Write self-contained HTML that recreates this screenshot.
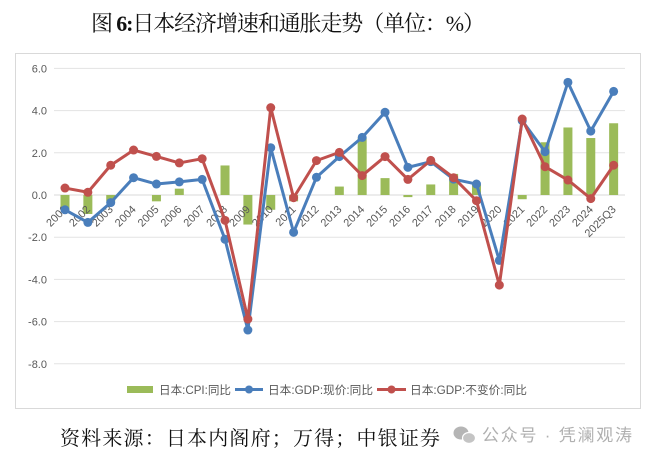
<!DOCTYPE html>
<html><head><meta charset="utf-8"><style>
html,body{margin:0;padding:0;background:#fff;}
svg{display:block;}
</style></head><body>
<svg width="654" height="462" viewBox="0 0 654 462" xmlns="http://www.w3.org/2000/svg">
<rect x="0" y="0" width="654" height="462" fill="#fff"/>
<!-- title -->
<text x="91" y="31" font-family="'Liberation Serif','Noto Serif CJK SC',serif" font-size="22" fill="#111" textLength="394" lengthAdjust="spacing">图 <tspan font-weight="bold">6:</tspan>日本经济增速和通胀走势（单位：%）</text>
<!-- chart frame -->
<rect x="15.5" y="53.5" width="625" height="355" fill="#fff" stroke="#d9d9d9" stroke-width="1"/>
<!-- gridlines -->
<g stroke="#e3e3e3" stroke-width="1">
<line x1="54" x2="625" y1="68.4" y2="68.4"/>
<line x1="54" x2="625" y1="110.6" y2="110.6"/>
<line x1="54" x2="625" y1="152.8" y2="152.8"/>
<line x1="54" x2="625" y1="195" y2="195" stroke="#d9d9d9"/>
<line x1="54" x2="625" y1="237.2" y2="237.2"/>
<line x1="54" x2="625" y1="279.4" y2="279.4"/>
<line x1="54" x2="625" y1="321.6" y2="321.6"/>
<line x1="54" x2="625" y1="363.8" y2="363.8"/>
</g>
<!-- y labels -->
<g font-family="'Liberation Sans',sans-serif" font-size="11" fill="#595959" text-anchor="end">
<text x="47" y="72.4">6.0</text>
<text x="47" y="114.6">4.0</text>
<text x="47" y="156.8">2.0</text>
<text x="47" y="199">0.0</text>
<text x="47" y="241.2">-2.0</text>
<text x="47" y="283.4">-4.0</text>
<text x="47" y="325.6">-6.0</text>
<text x="47" y="367.8">-8.0</text>
</g>
<!-- bars -->
<g fill="#9BBB59">
<rect x="60.5" y="195" width="9" height="14.77"/>
<rect x="83.36" y="195" width="9" height="18.99"/>
<rect x="106.22" y="195" width="9" height="6.33"/>
<rect x="151.94" y="195" width="9" height="6.33"/>
<rect x="174.8" y="188.67" width="9" height="6.33"/>
<rect x="220.52" y="165.46" width="9" height="29.54"/>
<rect x="243.38" y="195" width="9" height="29.54"/>
<rect x="266.24" y="195" width="9" height="14.77"/>
<rect x="289.1" y="195" width="9" height="6.33"/>
<rect x="334.82" y="186.56" width="9" height="8.44"/>
<rect x="357.68" y="138.03" width="9" height="56.97"/>
<rect x="380.54" y="178.12" width="9" height="16.88"/>
<rect x="403.4" y="195" width="9" height="2.11"/>
<rect x="426.26" y="184.45" width="9" height="10.55"/>
<rect x="449.12" y="173.9" width="9" height="21.1"/>
<rect x="471.98" y="184.45" width="9" height="10.55"/>
<rect x="517.7" y="195" width="9" height="4.22"/>
<rect x="540.56" y="142.25" width="9" height="52.75"/>
<rect x="563.42" y="127.48" width="9" height="67.52"/>
<rect x="586.28" y="138.03" width="9" height="56.97"/>
<rect x="609.14" y="123.26" width="9" height="71.74"/>
</g>
<!-- x labels -->
<g font-family="'Liberation Sans',sans-serif" font-size="11" fill="#595959" text-anchor="end">
<text transform="translate(68,210) rotate(-45)">2001</text>
<text transform="translate(90.86,210) rotate(-45)">2002</text>
<text transform="translate(113.72,210) rotate(-45)">2003</text>
<text transform="translate(136.58,210) rotate(-45)">2004</text>
<text transform="translate(159.44,210) rotate(-45)">2005</text>
<text transform="translate(182.3,210) rotate(-45)">2006</text>
<text transform="translate(205.16,210) rotate(-45)">2007</text>
<text transform="translate(228.02,210) rotate(-45)">2008</text>
<text transform="translate(250.88,210) rotate(-45)">2009</text>
<text transform="translate(273.74,210) rotate(-45)">2010</text>
<text transform="translate(296.6,210) rotate(-45)">2011</text>
<text transform="translate(319.46,210) rotate(-45)">2012</text>
<text transform="translate(342.32,210) rotate(-45)">2013</text>
<text transform="translate(365.18,210) rotate(-45)">2014</text>
<text transform="translate(388.04,210) rotate(-45)">2015</text>
<text transform="translate(410.9,210) rotate(-45)">2016</text>
<text transform="translate(433.76,210) rotate(-45)">2017</text>
<text transform="translate(456.62,210) rotate(-45)">2018</text>
<text transform="translate(479.48,210) rotate(-45)">2019</text>
<text transform="translate(502.34,210) rotate(-45)">2020</text>
<text transform="translate(525.2,210) rotate(-45)">2021</text>
<text transform="translate(548.06,210) rotate(-45)">2022</text>
<text transform="translate(570.92,210) rotate(-45)">2023</text>
<text transform="translate(593.78,210) rotate(-45)">2024</text>
<text transform="translate(616.64,210) rotate(-45)">2025Q3</text>
</g>
<!-- blue line -->
<g>
<polyline fill="none" stroke="#4A7EBB" stroke-width="3" stroke-linejoin="round" stroke-linecap="round"
points="65,209.77 87.86,222.43 110.72,202.6 133.58,177.7 156.44,184.03 179.3,181.92 202.16,179.39 225.02,239.31 247.88,330.04 270.74,147.74 293.6,232.35 316.46,177.28 339.32,156.6 362.18,137.4 385.04,112.29 407.9,167.36 430.76,161.66 453.62,179.18 476.48,184.03 499.34,260.41 522.2,120.73 545.06,151.75 567.92,82.33 590.78,131.07 613.64,91.4"/>
<g fill="#4A7EBB">
<circle cx="65" cy="209.77" r="4.5"/><circle cx="87.86" cy="222.43" r="4.5"/><circle cx="110.72" cy="202.6" r="4.5"/><circle cx="133.58" cy="177.7" r="4.5"/><circle cx="156.44" cy="184.03" r="4.5"/><circle cx="179.3" cy="181.92" r="4.5"/><circle cx="202.16" cy="179.39" r="4.5"/><circle cx="225.02" cy="239.31" r="4.5"/><circle cx="247.88" cy="330.04" r="4.5"/><circle cx="270.74" cy="147.74" r="4.5"/><circle cx="293.6" cy="232.35" r="4.5"/><circle cx="316.46" cy="177.28" r="4.5"/><circle cx="339.32" cy="156.6" r="4.5"/><circle cx="362.18" cy="137.4" r="4.5"/><circle cx="385.04" cy="112.29" r="4.5"/><circle cx="407.9" cy="167.36" r="4.5"/><circle cx="430.76" cy="161.66" r="4.5"/><circle cx="453.62" cy="179.18" r="4.5"/><circle cx="476.48" cy="184.03" r="4.5"/><circle cx="499.34" cy="260.41" r="4.5"/><circle cx="522.2" cy="120.73" r="4.5"/><circle cx="545.06" cy="151.75" r="4.5"/><circle cx="567.92" cy="82.33" r="4.5"/><circle cx="590.78" cy="131.07" r="4.5"/><circle cx="613.64" cy="91.4" r="4.5"/>
</g>
</g>
<!-- red line -->
<g>
<polyline fill="none" stroke="#C0504D" stroke-width="3" stroke-linejoin="round" stroke-linecap="round"
points="65,188.04 87.86,192.26 110.72,165.25 133.58,150.06 156.44,156.39 179.3,162.93 202.16,158.71 225.02,220.32 247.88,319.07 270.74,107.65 293.6,197.74 316.46,160.61 339.32,152.38 362.18,175.59 385.04,156.6 407.9,179.39 430.76,160.4 453.62,177.7 476.48,200.7 499.34,285.1 522.2,119.04 545.06,166.73 567.92,180.02 590.78,198.59 613.64,165.25"/>
<g fill="#C0504D">
<circle cx="65" cy="188.04" r="4.5"/><circle cx="87.86" cy="192.26" r="4.5"/><circle cx="110.72" cy="165.25" r="4.5"/><circle cx="133.58" cy="150.06" r="4.5"/><circle cx="156.44" cy="156.39" r="4.5"/><circle cx="179.3" cy="162.93" r="4.5"/><circle cx="202.16" cy="158.71" r="4.5"/><circle cx="225.02" cy="220.32" r="4.5"/><circle cx="247.88" cy="319.07" r="4.5"/><circle cx="270.74" cy="107.65" r="4.5"/><circle cx="293.6" cy="197.74" r="4.5"/><circle cx="316.46" cy="160.61" r="4.5"/><circle cx="339.32" cy="152.38" r="4.5"/><circle cx="362.18" cy="175.59" r="4.5"/><circle cx="385.04" cy="156.6" r="4.5"/><circle cx="407.9" cy="179.39" r="4.5"/><circle cx="430.76" cy="160.4" r="4.5"/><circle cx="453.62" cy="177.7" r="4.5"/><circle cx="476.48" cy="200.7" r="4.5"/><circle cx="499.34" cy="285.1" r="4.5"/><circle cx="522.2" cy="119.04" r="4.5"/><circle cx="545.06" cy="166.73" r="4.5"/><circle cx="567.92" cy="180.02" r="4.5"/><circle cx="590.78" cy="198.59" r="4.5"/><circle cx="613.64" cy="165.25" r="4.5"/>
</g>
</g>
<!-- legend -->
<g font-family="'Liberation Sans','Noto Sans CJK SC',sans-serif" font-size="11.5" fill="#595959">
<rect x="127" y="386" width="26" height="7" fill="#9BBB59"/>
<text x="159" y="394" textLength="72" lengthAdjust="spacingAndGlyphs">日本:CPI:同比</text>
<line x1="235" x2="263" y1="389.5" y2="389.5" stroke="#4A7EBB" stroke-width="3"/>
<circle cx="249" cy="389.5" r="4" fill="#4A7EBB"/>
<text x="268" y="394" textLength="105" lengthAdjust="spacingAndGlyphs">日本:GDP:现价:同比</text>
<line x1="377" x2="406" y1="389.5" y2="389.5" stroke="#C0504D" stroke-width="3"/>
<circle cx="391.5" cy="389.5" r="4" fill="#C0504D"/>
<text x="410" y="394" textLength="117" lengthAdjust="spacingAndGlyphs">日本:GDP:不变价:同比</text>
</g>
<!-- footer -->
<text x="60" y="445" font-family="'Liberation Serif','Noto Serif CJK SC',serif" font-size="20" fill="#111" textLength="380" lengthAdjust="spacing">资料来源：日本内阁府；万得；中银证券</text>
<!-- watermark -->
<g fill="#b5b5b5">
<ellipse cx="461" cy="433" rx="7.5" ry="6.5"/>
<ellipse cx="469" cy="438" rx="6.5" ry="5.5" fill="#c4c4c4" stroke="#fff" stroke-width="1.2"/>
</g>
<text x="482" y="441" font-family="'Liberation Sans','Noto Sans CJK SC',sans-serif" font-size="17" fill="#b0b0b0" textLength="150" lengthAdjust="spacing">公众号 · 凭澜观涛</text>
</svg>
</body></html>
